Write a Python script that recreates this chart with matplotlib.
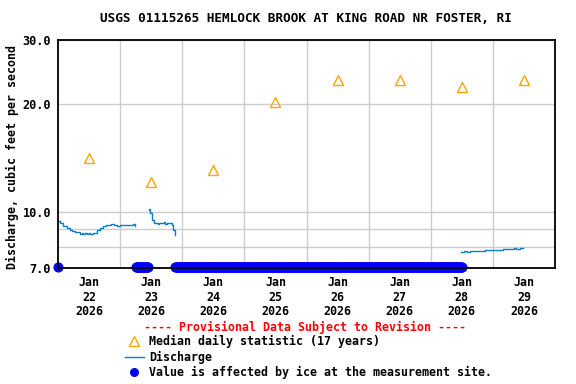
import numpy as np
import matplotlib.pyplot as plt
from matplotlib.lines import Line2D
from matplotlib.ticker import FixedLocator, NullFormatter

# time is in hours from Jan 22 00:00
# discharge (cfs)
q1_hours = [0, 0.8, 2.1, 3.4, 4.6, 5.5, 6.6, 7.5, 8.5, 9.2, 9.8, 10.5, 11.1, 11.8, 12.4, 13.0, 13.7,
            15.0, 16.3, 17.5, 18.5, 19.5, 20.5, 21.5, 22.7, 23.8, 24.8, 25.9, 26.8, 27.9, 28.8, 29.8]
q1_vals = [9.47, 9.30, 9.18, 9.04, 8.91, 8.88, 8.81, 8.80, 8.72, 8.76, 8.68, 8.73, 8.70, 8.74, 8.72, 8.70, 8.75,
           8.91, 9.04, 9.16, 9.20, 9.22, 9.25, 9.20, 9.18, 9.22, 9.19, 9.20, 9.24, 9.22, 9.26, 9.16]

q2_hours = [35.0, 35.3, 35.6, 36.3, 36.9, 37.6, 38.5, 39.2, 40.0, 40.8, 41.5, 42.3, 43.4, 44.0, 44.6, 45.3]
q2_vals = [10.13, 10.20, 9.95, 9.50, 9.30, 9.34, 9.28, 9.33, 9.30, 9.36, 9.28, 9.32, 9.30, 9.20, 8.91, 8.66]

q3_hours = [155.8, 157.0, 158.0, 159.0, 160.5, 161.0, 163.0, 165.0, 166.0, 167.0, 169.0, 171.0, 172.0,
            173.0, 175.0, 176.0, 177.0, 178.5, 179.5]
q3_vals = [7.74, 7.78, 7.77, 7.80, 7.79, 7.80, 7.82, 7.84, 7.83, 7.84, 7.86, 7.87, 7.90,
           7.89, 7.90, 7.93, 7.92, 7.94, 7.93]

# median daily statistic at noon of each day
median_hours = [12, 36, 60, 84, 108, 132, 156, 180]
median_vals = [14.1, 12.1, 13.1, 20.2, 23.2, 23.2, 22.2, 23.2]

# periods flagged as ice-affected (start hour, end hour), 15-min records
ice_periods = [(0.0, 0.0), (30.2, 34.8), (45.3, 156.2)]
ice_level = 7.05

day_labels = ['Jan\n22\n2026', 'Jan\n23\n2026', 'Jan\n24\n2026', 'Jan\n25\n2026',
              'Jan\n26\n2026', 'Jan\n27\n2026', 'Jan\n28\n2026', 'Jan\n29\n2026']

mono = 'DejaVu Sans Mono'
fig = plt.figure(figsize=(5.76, 3.84), dpi=100)
ax = fig.add_axes([58 / 576, 1 - 268 / 384, 497 / 576, 228 / 384])

ax.set_yscale('log')
ax.set_ylim(7, 30)
ax.set_xlim(0, 192)

blue = '#0a7ecb'
for h, v in [(q1_hours, q1_vals), (q2_hours, q2_vals), (q3_hours, q3_vals)]:
    ax.plot(h, v, color=blue, lw=1, drawstyle='steps-post', zorder=3)

for a, b in ice_periods:
    t = np.arange(a, b + 0.01, 0.25)
    ax.plot(t, np.full(len(t), ice_level), 'o', color='#0000ff', ms=7.3, mec='none',
            zorder=4, clip_on=False)

ax.plot(median_hours, median_vals, '^', ms=7, mfc='none', mec='#ffa500', mew=1, zorder=5)

ax.yaxis.set_major_locator(FixedLocator([7, 10, 20, 30]))
ax.yaxis.set_minor_locator(FixedLocator([8, 9]))
ax.yaxis.set_minor_formatter(NullFormatter())
ax.set_yticks([7, 10, 20, 30])
ax.set_yticklabels(['7.0', '10.0', '20.0', '30.0'], fontfamily=mono, fontweight='bold', fontsize=8.6)

ax.set_xticks(median_hours)
ax.set_xticklabels(day_labels, fontfamily=mono, fontweight='bold', fontsize=8.4, linespacing=1.15)
ax.set_xticks(np.arange(24, 192, 24), minor=True)
ax.tick_params(axis='both', which='both', length=0)
ax.tick_params(axis='x', pad=6)
ax.tick_params(axis='y', pad=5)

ax.grid(True, which='both', color='#cccccc', lw=1)
ax.grid(False, axis='x', which='major')
ax.set_axisbelow(True)
for s in ax.spines.values():
    s.set_linewidth(1.3)
    s.set_zorder(6)

fig.text(306 / 576, 1 - 19 / 384, 'USGS 01115265 HEMLOCK BROOK AT KING ROAD NR FOSTER, RI',
         ha='center', va='center', fontfamily=mono, fontweight='bold', fontsize=9.2)
fig.text(12 / 576, 1 - 157 / 384, 'Discharge, cubic feet per second', rotation=90,
         ha='center', va='center', fontfamily=mono, fontweight='bold', fontsize=8.4)

fig.text(305 / 576, 1 - 327 / 384, '---- Provisional Data Subject to Revision ----',
         ha='center', va='center', color='red', fontfamily=mono, fontweight='bold', fontsize=8.4)

leg_items = [
    Line2D([0], [0], marker='^', ls='none', ms=7, mfc='none', mec='#ffa500'),
    Line2D([0], [0], color=blue, lw=1),
    Line2D([0], [0], marker='o', ls='none', ms=6.5, color='#0000ff', mec='none'),
]
leg_texts = ['Median daily statistic (17 years)', 'Discharge',
             'Value is affected by ice at the measurement site.']
leg = fig.legend(leg_items, leg_texts, loc='upper left', bbox_to_anchor=(119 / 576, 1 - 329 / 384),
                 frameon=False, handlelength=1.6, handletextpad=0.5, labelspacing=0.22,
                 borderpad=0, prop={'family': mono, 'weight': 'bold', 'size': 8.4})

fig.savefig('out.png', dpi=100)
